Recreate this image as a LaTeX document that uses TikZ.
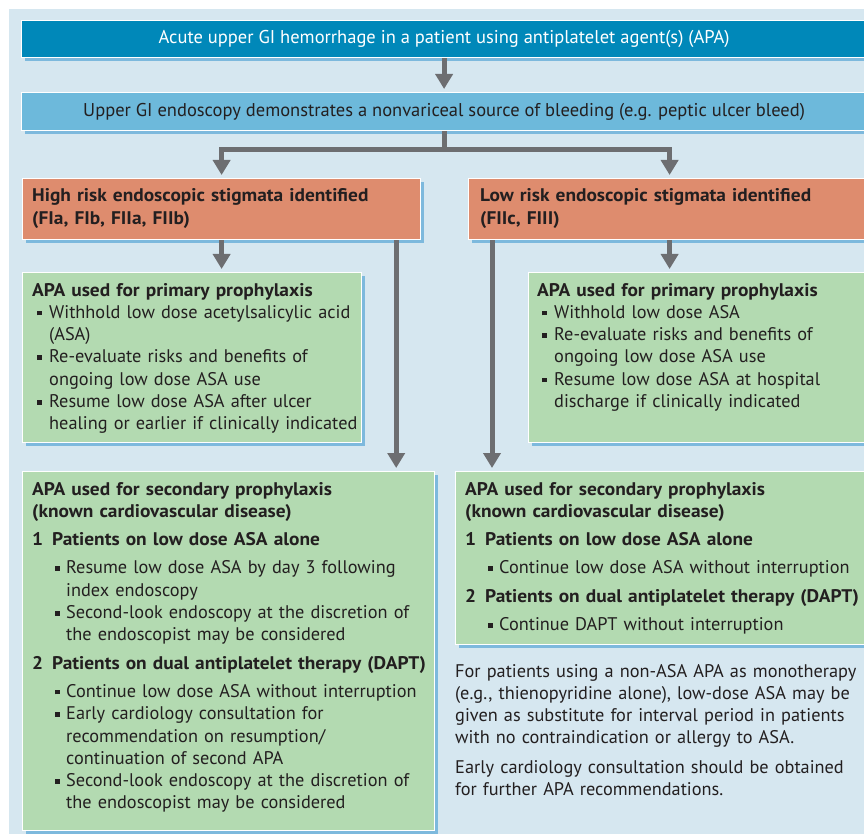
\documentclass[tikz,border=0pt]{standalone}
\usepackage{fontspec}
\setmainfont{PT Sans}[BoldFeatures={FakeStretch=1.06}]
\usetikzlibrary{arrows.meta,shadows}

\definecolor{panel}{HTML}{D6E7F0}
\definecolor{topblue}{HTML}{0088B9}
\definecolor{midblue}{HTML}{6DB9DB}
\definecolor{salmon}{HTML}{DE8C6E}
\definecolor{mint}{HTML}{B3DAB1}
\definecolor{shade}{HTML}{7DB9DD}
\definecolor{linegray}{HTML}{6D6E71}
\definecolor{ink}{HTML}{231F20}

% bullets and numbered lines
\newcommand\bul[1]{\par\hangindent=17pt\hangafter=1\noindent\makebox[17pt][l]{\hspace{5pt}\rule[3pt]{4.5pt}{4.5pt}}#1\par}
\newcommand\subbul[1]{\par\hangindent=34pt\hangafter=1\noindent\makebox[34pt][l]{\hspace{23pt}\rule[3pt]{4.5pt}{4.5pt}}#1\par}
\newcommand\numitem[2]{\par\vspace{6pt}\noindent\makebox[20pt][l]{\textbf{#1}}\textbf{#2}\par\vspace{6pt}}

\begin{document}
\begin{tikzpicture}[x=1pt, y=-1pt,
	box/.style={rectangle, draw=white, line width=1.2pt, anchor=north west, inner sep=0pt,
		drop shadow={shadow xshift=3pt, shadow yshift=-3pt, fill=shade, opacity=1}},
	txt/.style={anchor=base west, inner sep=0pt, align=left, text=ink,
		font=\fontsize{18.3pt}{22.3pt}\selectfont},
	flow/.style={draw=linegray, line width=5pt, -{Triangle[width=17pt,length=15pt]}, shorten >=3pt}]

	\clip (0,0) rectangle (864,834);
	\fill[panel] (9,9) rectangle (880,850);

	\node[box, fill=topblue, minimum width=845pt, minimum height=37pt, text=white,
		font=\fontsize{18.5pt}{22.3pt}\selectfont] (acute) at (21,20)
		{Acute upper GI hemorrhage in a patient using antiplatelet agent(s) (APA)};
	\node[box, fill=midblue, minimum width=845pt, minimum height=38pt, text=ink,
		font=\fontsize{18.5pt}{22.3pt}\selectfont] (endo) at (21,92)
		{Upper GI endoscopy demonstrates a nonvariceal source of bleeding (e.g. peptic ulcer bleed)};

	\node[box, fill=salmon, minimum width=398pt, minimum height=61pt] (high) at (22,178) {};
	\node[box, fill=salmon, minimum width=402pt, minimum height=61pt] (low) at (468,178) {};
	\node[txt, text width=385pt] (high text) at (32,202)
		{\textbf{High risk endoscopic stigmata identified}\newline\textbf{(FIa, FIb, FIIa, FIIb)}};
	\node[txt, text width=385pt] (low text) at (480,202)
		{\textbf{Low risk endoscopic stigmata identified}\newline\textbf{(FIIc, FIII)}};

	\node[box, fill=mint, minimum width=339pt, minimum height=170pt] (prim1) at (22,272) {};
	\node[box, fill=mint, minimum width=342pt, minimum height=170pt] (prim2) at (528,272) {};
	\node[box, fill=mint, minimum width=412pt, minimum height=359pt] (sec1) at (22,471) {};
	\node[box, fill=mint, minimum width=415pt, minimum height=173pt] (sec2) at (455,471) {};

	\node[txt, text width=340pt] (prim1 text) at (32,296)
		{\textbf{APA used for primary prophylaxis}\par
		\bul{Withhold low dose acetylsalicylic acid\newline(ASA)}
		\bul{Re-evaluate risks and benefits of\newline ongoing low dose ASA use}
		\bul{Resume low dose ASA after ulcer\newline healing or earlier if clinically indicated}};
	\node[txt, text width=340pt] (prim2 text) at (537,296)
		{\textbf{APA used for primary prophylaxis}\par
		\bul{Withhold low dose ASA}
		\bul{Re-evaluate risks and benefits of\newline ongoing low dose ASA use}
		\bul{Resume low dose ASA at hospital\newline discharge if clinically indicated}};

	\node[txt, text width=420pt] (sec1 text) at (32,495)
		{\textbf{APA used for secondary prophylaxis}\newline\textbf{(known cardiovascular disease)}\par
		\numitem{1}{Patients on low dose ASA alone}
		\subbul{Resume low dose ASA by day 3 following\newline index endoscopy}
		\subbul{Second-look endoscopy at the discretion of\newline the endoscopist may be considered}
		\numitem{2}{Patients on dual antiplatelet therapy (DAPT)}
		\subbul{Continue low dose ASA without interruption}
		\subbul{Early cardiology consultation for\newline recommendation on resumption/\newline continuation of second APA}
		\subbul{Second-look endoscopy at the discretion of\newline the endoscopist may be considered}};
	\node[txt, text width=420pt] (sec2 text) at (465,495)
		{\textbf{APA used for secondary prophylaxis}\newline\textbf{(known cardiovascular disease)}\par
		\numitem{1}{Patients on low dose ASA alone}
		\subbul{Continue low dose ASA without interruption}
		\numitem{2}{Patients on dual antiplatelet therapy (DAPT)}
		\subbul{Continue DAPT without interruption}};

	\node[txt, text width=420pt] (note) at (455,677)
		{For patients using a non-ASA APA as monotherapy\newline(e.g., thienopyridine alone), low-dose ASA may be\newline given as substitute for interval period in patients\newline with no contraindication or allergy to ASA.\par\vspace{7pt}
		Early cardiology consultation should be obtained\newline for further APA recommendations.};

	% connectors
	\coordinate (h2) at ([xshift=-25pt]high.south east);
	\coordinate (l2) at ([xshift=24pt]low.south west);
	\draw[flow] (acute) -- (endo);
	\draw[flow] (endo.south) -- ++(0,18) -| (high.north);
	\draw[flow] (endo.south) -- ++(0,18) -| (low.north);
	\draw[flow] (high.south) -- (high.south |- prim1.north);
	\draw[flow] (h2) -- (h2 |- sec1.north);
	\draw[flow] (low.south) -- (low.south |- prim2.north);
	\draw[flow] (l2) -- (l2 |- sec2.north);
\end{tikzpicture}
\end{document}
